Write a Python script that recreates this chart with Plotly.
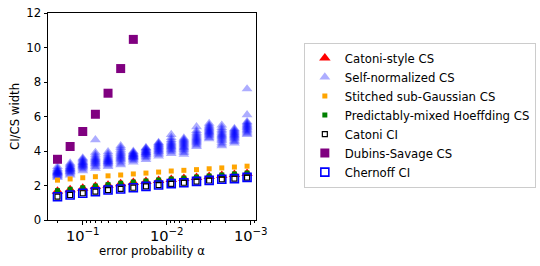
import plotly.graph_objects as go

alpha = [0.2, 0.1414, 0.1, 0.07071, 0.05, 0.03536, 0.025, 0.01768,
         0.0125, 0.008839, 0.00625, 0.004419, 0.003125, 0.00221, 0.001563, 0.001105]

catoni_style_cs = [1.66, 1.75, 1.84, 1.94, 2.02, 2.10, 2.17, 2.23,
                   2.29, 2.35, 2.40, 2.46, 2.52, 2.58, 2.64, 2.69]
self_normalized_cs = [
    [2.45, 2.52, 2.58, 2.62, 2.66, 2.7, 2.72, 2.75, 2.78, 2.8, 2.84, 2.88, 2.94, 3.0, 3.1],
    [2.6, 2.68, 2.75, 2.8, 2.84, 2.88, 2.92, 2.95, 2.98, 3.02, 3.06, 3.1, 3.16, 3.22, 3.3],
    [2.85, 2.95, 3.02, 3.08, 3.12, 3.16, 3.2, 3.24, 3.28, 3.32, 3.36, 3.42, 3.48, 3.54, 3.6],
    [3.0, 3.1, 3.18, 3.25, 3.3, 3.35, 3.4, 3.45, 3.5, 3.56, 3.62, 3.7, 3.8, 3.92, 4.65],
    [3.1, 3.18, 3.25, 3.3, 3.34, 3.38, 3.42, 3.46, 3.5, 3.55, 3.6, 3.66, 3.74, 3.84, 3.95],
    [3.2, 3.3, 3.4, 3.48, 3.55, 3.6, 3.66, 3.72, 3.78, 3.85, 3.92, 4.0, 4.1, 4.2, 4.3],
    [3.35, 3.45, 3.52, 3.57, 3.61, 3.65, 3.68, 3.71, 3.74, 3.77, 3.8, 3.84, 3.88, 3.93, 3.98],
    [3.5, 3.6, 3.68, 3.74, 3.79, 3.83, 3.87, 3.9, 3.94, 3.98, 4.02, 4.07, 4.12, 4.16, 4.2],
    [3.7, 3.8, 3.88, 3.95, 4.0, 4.05, 4.1, 4.15, 4.2, 4.25, 4.3, 4.35, 4.4, 4.45, 4.5],
    [3.85, 3.95, 4.03, 4.1, 4.16, 4.22, 4.27, 4.32, 4.38, 4.44, 4.5, 4.58, 4.66, 4.78, 4.95],
    [3.8, 3.9, 4.0, 4.08, 4.15, 4.2, 4.26, 4.32, 4.38, 4.44, 4.5, 4.56, 4.62, 4.68, 4.75],
    [4.25, 4.34, 4.42, 4.48, 4.54, 4.6, 4.66, 4.72, 4.78, 4.85, 4.92, 5.0, 5.08, 5.18, 5.4],
    [4.7, 4.78, 4.86, 4.92, 4.98, 5.03, 5.08, 5.13, 5.18, 5.24, 5.3, 5.36, 5.43, 5.5, 5.6],
    [4.3, 4.4, 4.5, 4.6, 4.68, 4.75, 4.82, 4.88, 4.94, 5.0, 5.08, 5.16, 5.25, 5.36, 5.5],
    [4.45, 4.54, 4.62, 4.7, 4.76, 4.82, 4.87, 4.92, 4.97, 5.02, 5.07, 5.12, 5.18, 5.24, 5.3],
    [4.95, 5.02, 5.1, 5.17, 5.23, 5.29, 5.35, 5.4, 5.46, 5.52, 5.58, 5.64, 5.7, 6.1, 7.6],
]
stitched_subgaussian_cs = [2.31, 2.38, 2.45, 2.51, 2.56, 2.61, 2.67, 2.72,
                           2.78, 2.84, 2.88, 2.92, 2.97, 3.02, 3.07, 3.12]
pm_hoeffding_cs = [1.70, 1.78, 1.87, 1.97, 2.05, 2.13, 2.20, 2.26,
                   2.32, 2.38, 2.43, 2.49, 2.55, 2.61, 2.67, 2.72]
catoni_ci = [1.35, 1.45, 1.55, 1.64, 1.73, 1.80, 1.87, 1.95,
             2.02, 2.10, 2.16, 2.23, 2.29, 2.35, 2.40, 2.46]
dubins_savage_cs = [3.52, 4.26, 5.13, 6.13, 7.35, 8.78, 10.47]
chernoff_ci = [1.35, 1.45, 1.55, 1.64, 1.74, 1.80, 1.87, 1.95,
               2.03, 2.11, 2.16, 2.24, 2.30, 2.36, 2.40, 2.47]

FONT = "DejaVu Sans"
FS = 11.7

sn_x = [a for a, col in zip(alpha, self_normalized_cs) for _ in col]
sn_y = [v for col in self_normalized_cs for v in col]

fig = go.Figure()
fig.add_trace(go.Scatter(x=alpha, y=catoni_style_cs, mode="markers", name="Catoni-style CS",
                         marker=dict(symbol="triangle-up", size=10, color="#ff0000", line=dict(width=0))))
fig.add_trace(go.Scatter(x=sn_x, y=sn_y, mode="markers", name="Self-normalized CS",
                         marker=dict(symbol="triangle-up", size=9.5, color="rgba(0,0,255,0.32)", line=dict(width=0))))
fig.add_trace(go.Scatter(x=alpha, y=stitched_subgaussian_cs, mode="markers", name="Stitched sub-Gaussian CS",
                         marker=dict(symbol="square", size=5, color="#ffa500", line=dict(width=0))))
fig.add_trace(go.Scatter(x=alpha, y=pm_hoeffding_cs, mode="markers", name="Predictably-mixed Hoeffding CS",
                         marker=dict(symbol="square", size=5, color="#008000", line=dict(width=0))))
fig.add_trace(go.Scatter(x=alpha, y=catoni_ci, mode="markers", name="Catoni CI",
                         marker=dict(symbol="square-open", size=5, color="#000000", line=dict(width=1.2))))
fig.add_trace(go.Scatter(x=alpha[:len(dubins_savage_cs)], y=dubins_savage_cs, mode="markers", name="Dubins-Savage CS",
                         marker=dict(symbol="square", size=9, color="#800080", line=dict(width=0))))
fig.add_trace(go.Scatter(x=alpha, y=chernoff_ci, mode="markers", name="Chernoff CI",
                         marker=dict(symbol="square-open", size=8, color="#0000ff", line=dict(width=1.6))))

fig.update_layout(
    width=540, height=266,
    margin=dict(l=48, r=284, t=13, b=46, autoexpand=False),
    paper_bgcolor="white", plot_bgcolor="white",
    font=dict(family=FONT, size=FS, color="black"),
    showlegend=True,
    legend=dict(x=1.23, y=0.857, xanchor="left", yanchor="top",
                bordercolor="#cccccc", borderwidth=1, bgcolor="white",
                font=dict(family=FONT, size=FS), tracegroupgap=0),
)
fig.update_xaxes(
    type="log", range=[-0.586, -3.063], dtick=1, exponentformat="power",
    showgrid=False, zeroline=False, showline=True, linecolor="black", linewidth=1, mirror=True,
    ticks="outside", ticklen=3.5, tickwidth=1, tickcolor="black",
    minor=dict(ticks="outside", dtick="D1", ticklen=2, tickwidth=0.8, tickcolor="black", showgrid=False),
    title=dict(text="error probability α", standoff=0, font=dict(family=FONT, size=FS)),
)
fig.update_yaxes(
    range=[0, 12], dtick=2,
    showgrid=False, zeroline=False, showline=True, linecolor="black", linewidth=1, mirror=True,
    ticks="outside", ticklen=3.5, tickwidth=1, tickcolor="black",
    title=dict(text="CI/CS width", standoff=4, font=dict(family=FONT, size=FS)),
)
fig.write_html("out.html",
               config={"displayModeBar": False},
               post_script="document.body.style.margin='0';document.body.style.padding='0';"
                           "document.body.style.overflow='hidden';")
